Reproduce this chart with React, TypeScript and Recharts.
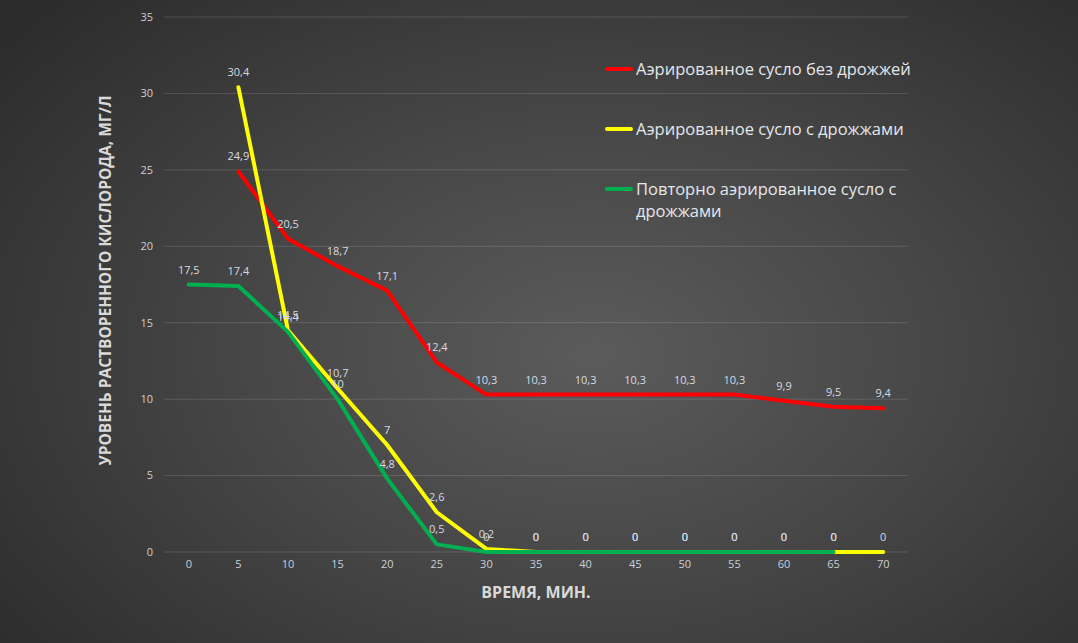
import React from 'react';
import { LineChart, Line, XAxis, YAxis, CartesianGrid, LabelList, Legend } from 'recharts';

const categories = [0, 5, 10, 15, 20, 25, 30, 35, 40, 45, 50, 55, 60, 65, 70];
const redValues = [null, 24.9, 20.5, 18.7, 17.1, 12.4, 10.3, 10.3, 10.3, 10.3, 10.3, 10.3, 9.9, 9.5, 9.4];
const yellowValues = [null, 30.4, 14.5, 10.7, 7, 2.6, 0.2, 0, 0, 0, 0, 0, 0, 0, 0];
const greenValues = [17.5, 17.4, 14.4, 10, 4.8, 0.5, 0, 0, 0, 0, 0, 0, 0, 0, null];
const yTicks = [0, 5, 10, 15, 20, 25, 30, 35];

const seriesNames = [
  'Аэрированное сусло без дрожжей',
  'Аэрированное сусло с дрожжами',
  'Повторно аэрированное сусло с дрожжами',
];
const seriesColors = ['#ff0000', '#ffff00', '#00b050'];
const xTitle = 'ВРЕМЯ, МИН.';
const yTitle = 'УРОВЕНЬ РАСТВОРЕННОГО КИСЛОРОДА, МГ/Л';

const data = categories.map((t, i) => ({
  t,
  red: redValues[i],
  yellow: yellowValues[i],
  green: greenValues[i],
}));

const FONT = '"Open Sans", "Noto Sans", sans-serif';
const LABEL_COLOR = '#d5dbe4';
const TICK_COLOR = '#c8d0db';

const fmt = (v: any) => (v === null || v === undefined ? '' : String(v).replace('.', ','));

const LegendContent = () => (
  <div style={{ fontFamily: FONT, fontSize: 16.5, color: '#e4e7ec' }}>
    {seriesNames.map((name, i) => {
      const lines = i === 2 ? [name.slice(0, name.lastIndexOf(' ')), name.slice(name.lastIndexOf(' ') + 1)] : [name];
      return (
        <div key={i} style={{ display: 'flex', alignItems: 'flex-start', height: 60 }}>
          <div style={{ width: 28, height: 4, background: seriesColors[i], marginTop: 9, marginRight: 3, borderRadius: 2 }} />
          <div style={{ lineHeight: '22px', whiteSpace: 'nowrap' }}>
            {lines.map((l, j) => (
              <div key={j}>{l}</div>
            ))}
          </div>
        </div>
      );
    })}
  </div>
);

export default function App() {
  return (
    <div
      style={{
        position: 'absolute',
        left: 0,
        top: 0,
        width: 1078,
        height: 643,
        background: 'radial-gradient(ellipse 70% 78% at 55% 55%, #5b5b5b 0%, #474747 45%, #2c2c2c 100%)',
        overflow: 'hidden',
      }}
    >
      <LineChart width={1078} height={643} data={data} margin={{ top: 17, right: 170, left: 104, bottom: 61 }}>
        <CartesianGrid vertical={false} stroke="rgba(255,255,255,0.14)" strokeWidth={1} />
        <XAxis
          dataKey="t"
          axisLine={false}
          tickLine={false}
          height={30}
          padding={{ left: 24.8, right: 24.8 }}
          tick={{ fill: TICK_COLOR, fontSize: 11, fontFamily: FONT }}
          interval={0}
          label={{
            content: (props: any) => {
              const vb = props.viewBox || {};
              return (
                <text
                  x={vb.x + vb.width / 2}
                  y={vb.y + 46}
                  textAnchor="middle"
                  fill="#d9d9d9"
                  fontSize={16}
                  fontWeight="bold"
                  fontFamily={FONT}
                >
                  {xTitle}
                </text>
              );
            },
          }}
        />
        <YAxis
          domain={[0, 35]}
          ticks={yTicks}
          axisLine={false}
          tickLine={false}
          width={60}
          tickMargin={5}
          tick={{ fill: TICK_COLOR, fontSize: 11, fontFamily: FONT }}
          label={{
            content: (props: any) => {
              const vb = props.viewBox || {};
              const cx = vb.x + 1;
              const cy = vb.y + vb.height / 2 - 4;
              return (
                <text
                  x={cx}
                  y={cy}
                  transform={`rotate(-90 ${cx} ${cy})`}
                  textAnchor="middle"
                  dominantBaseline="central"
                  fill="#d9d9d9"
                  fontSize={15.5}
                  fontWeight="bold"
                  fontFamily={FONT}
                >
                  {yTitle}
                </text>
              );
            },
          }}
        />
        <Legend
          layout="horizontal"
          verticalAlign="middle"
          align="center"
          content={<LegendContent />}
          wrapperStyle={{ position: 'absolute', left: 605, top: 58, width: 340, bottom: 'auto', right: 'auto' }}
        />
        <Line
          type="linear"
          dataKey="red"
          name={seriesNames[0]}
          stroke={seriesColors[0]}
          strokeWidth={4}
          dot={false}
          isAnimationActive={false}
          strokeLinecap="round"
          strokeLinejoin="round"
        >
          <LabelList dataKey="red" position="top" offset={11} fill={LABEL_COLOR} fontSize={11} fontFamily={FONT} formatter={fmt} />
        </Line>
        <Line
          type="linear"
          dataKey="yellow"
          name={seriesNames[1]}
          stroke={seriesColors[1]}
          strokeWidth={4}
          dot={false}
          isAnimationActive={false}
          strokeLinecap="round"
          strokeLinejoin="round"
        >
          <LabelList dataKey="yellow" position="top" offset={11} fill={LABEL_COLOR} fontSize={11} fontFamily={FONT} formatter={fmt} />
        </Line>
        <Line
          type="linear"
          dataKey="green"
          name={seriesNames[2]}
          stroke={seriesColors[2]}
          strokeWidth={4}
          dot={false}
          isAnimationActive={false}
          strokeLinecap="round"
          strokeLinejoin="round"
        >
          <LabelList dataKey="green" position="top" offset={11} fill={LABEL_COLOR} fontSize={11} fontFamily={FONT} formatter={fmt} />
        </Line>
      </LineChart>
    </div>
  );
}
